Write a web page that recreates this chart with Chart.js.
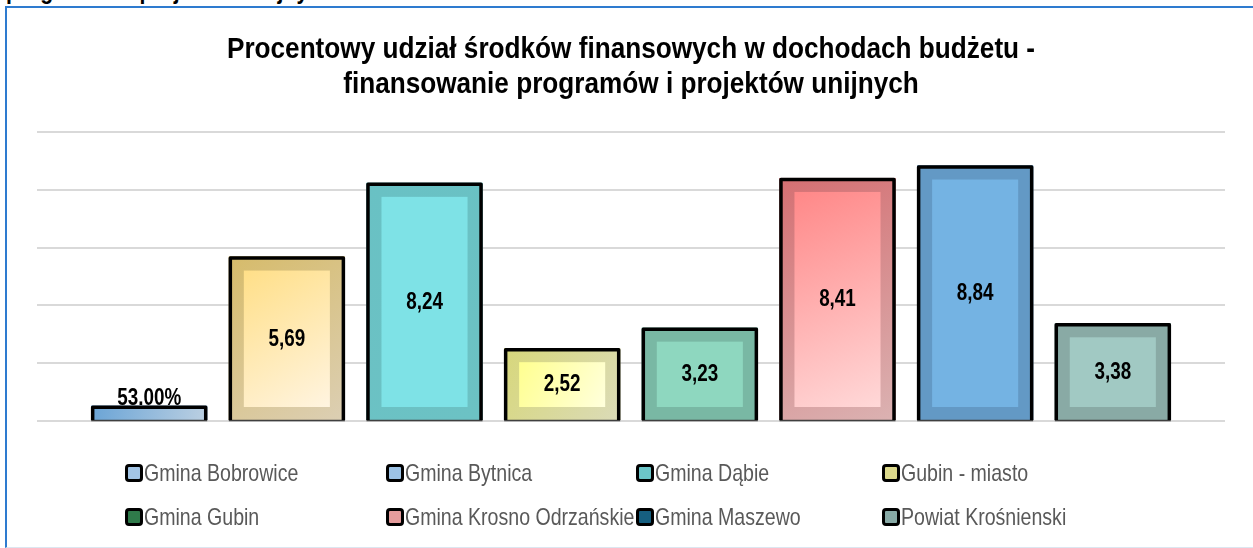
<!DOCTYPE html>
<html>
<head>
<meta charset="utf-8">
<script src="https://cdn.jsdelivr.net/npm/chart.js@4.4.1/dist/chart.umd.min.js"></script>
<style>
  html, body { margin: 0; padding: 0; background: #fff; width: 1253px; height: 548px; overflow: hidden; }
  #strip { position: absolute; left: 6px; top: -22px; font: bold 25px "Liberation Sans", Arial, sans-serif; line-height: 25px; color: #000; white-space: nowrap; transform: scaleX(0.85); transform-origin: 0 0; }
  #frame { position: absolute; left: 5px; top: 6px; width: 1400px; height: 539px; border-left: 2px solid #2e7bcf; border-top: 2px solid #2e7bcf; border-bottom: 1px solid #dce6f0; background: transparent; }
  #wrap { position: absolute; left: 0; top: 0; width: 1253px; height: 548px; }
  #title { position: absolute; left: 0; top: 30px; width: 1262px; text-align: center; font: bold 30px "Liberation Sans", Arial, sans-serif; line-height: 35px; color: #000; white-space: nowrap; transform: scaleX(0.872); transform-origin: 631px 0; }
  #legend { position: absolute; left: 125px; top: 451px; display: grid; grid-template-columns: 261px 250px 246px auto; grid-auto-rows: 44px; }
  .item { display: flex; align-items: center; font: 24px "Liberation Sans", Arial, sans-serif; color: #595959; white-space: nowrap; }
  .item .txt { display: inline-block; transform: scaleX(0.815); transform-origin: 0 50%; }
  .box { width: 12px; height: 12px; border: 3px solid #000; border-radius: 4px; margin-right: 1px; flex: none; }
</style>
</head>
<body>
<div id="strip">programów i projektów unijnych</div>
<div id="frame"></div>
<div id="wrap"><canvas id="c" width="1253" height="548"></canvas></div>
<div id="title"></div>
<div id="legend"></div>
<script>
const titleLines = ['Procentowy udział środków finansowych w dochodach budżetu -', 'finansowanie programów i projektów unijnych'];
const categories = [''];
const seriesNames = ['Gmina Bobrowice', 'Gmina Bytnica', 'Gmina Dąbie', 'Gubin - miasto', 'Gmina Gubin', 'Gmina Krosno Odrzańskie', 'Gmina Maszewo', 'Powiat Krośnienski'];
const values = [0.53, 5.69, 8.24, 2.52, 3.23, 8.41, 8.84, 3.38];
const valueLabels = ['53.00%', '5,69', '8,24', '2,52', '3,23', '8,41', '8,84', '3,38'];
const yTicks = [0, 2, 4, 6, 8, 10];

const frameStart = ['#6aa4d6', '#d6bb6a', '#69c1c4', '#d7d77a', '#79b8a4', '#d46f72', '#6399c5', '#89aaa5'];
const frameEnd   = ['#bcd0e2', '#dccfb4', '#6cc2c4', '#dbdbb8', '#79b8a4', '#dbb2b2', '#6399c5', '#89aaa5'];
const innerStart = ['#6aa4d6', '#ffdf88', '#7ee2e6', '#ffff90', '#8ed7bf', '#ff8888', '#74b3e3', '#a1c9c3'];
const innerEnd   = ['#bcd0e2', '#fff4e0', '#7ee2e6', '#ffffdc', '#8ed7bf', '#ffd8d8', '#74b3e3', '#a1c9c3'];
const legendColors = ['#a3c5e6', '#9dc3e6', '#6cc6c9', '#dcd98c', '#2f7a4a', '#e59c9c', '#165f80', '#88aaa6'];

const sansFont = '"Liberation Sans", Arial, sans-serif';

const bevelPlugin = {
  id: 'bevel',
  afterDatasetsDraw(chart) {
    const ctx = chart.ctx;
    chart.getSortedVisibleDatasetMetas().forEach(meta => {
      const i = meta.index;
      meta.data.forEach(bar => {
        const p = bar.getProps(['x', 'y', 'base', 'width'], true);
        const L = p.x - p.width / 2, R = p.x + p.width / 2, T = p.y, B = p.base;
        const h = B - T;
        ctx.save();
        let g = ctx.createLinearGradient(L, T, R, B);
        g.addColorStop(0, frameStart[i]); g.addColorStop(1, frameEnd[i]);
        ctx.fillStyle = g;
        ctx.fillRect(L, T, R - L, h);
        if (h > 40) {
          const il = L + 15, ir = R - 15, it = T + 14, ib = B - 13;
          g = ctx.createLinearGradient(il, it, ir, ib);
          g.addColorStop(0, innerStart[i]); g.addColorStop(1, innerEnd[i]);
          ctx.fillStyle = g;
          ctx.fillRect(il, it, ir - il, ib - it);
        }
        ctx.strokeStyle = '#404040';
        ctx.lineWidth = 1.5;
        ctx.beginPath(); ctx.moveTo(L, B + 0.5); ctx.lineTo(R, B + 0.5); ctx.stroke();
        ctx.strokeStyle = '#000';
        ctx.lineWidth = 3.5;
        ctx.lineJoin = 'round';
        ctx.beginPath();
        ctx.moveTo(L + 1.5, B);
        ctx.lineTo(L + 1.5, T + 1.5);
        ctx.lineTo(R - 1.5, T + 1.5);
        ctx.lineTo(R - 1.5, B);
        ctx.stroke();
        ctx.fillStyle = '#000';
        ctx.font = 'bold 23px ' + sansFont;
        ctx.textAlign = 'center';
        let ly;
        if (h > 40) { ctx.textBaseline = 'middle'; ly = (T + B) / 2 + 1; }
        else { ctx.textBaseline = 'alphabetic'; ly = T - 1; }
        ctx.translate(p.x, ly);
        ctx.scale(0.82, 1);
        ctx.fillText(valueLabels[i], 0, 0);
        ctx.restore();
      });
    });
  }
};

const datasets = seriesNames.map((name, i) => ({
  label: name,
  data: [values[i]],
  backgroundColor: frameStart[i],
  borderWidth: 0,
  categoryPercentage: 0.927,
  barPercentage: 0.843
}));

new Chart(document.getElementById('c'), {
  type: 'bar',
  data: { labels: categories, datasets },
  options: {
    responsive: false,
    animation: false,
    layout: { padding: { left: 37, right: 28, top: 132, bottom: 127 } },
    plugins: {
      legend: { display: false },
      tooltip: { enabled: false },
      title: { display: false }
    },
    scales: {
      x: { display: false },
      y: {
        min: yTicks[0], max: yTicks[yTicks.length - 1],
        afterBuildTicks: s => { s.ticks = yTicks.map(v => ({ value: v })); },
        ticks: { display: false },
        border: { display: false },
        grid: { color: '#d9d9d9', lineWidth: 2, drawTicks: false }
      }
    }
  },
  plugins: [bevelPlugin]
});

const title = document.getElementById('title');
titleLines.forEach(line => {
  const d = document.createElement('div');
  d.textContent = line;
  title.appendChild(d);
});

const legend = document.getElementById('legend');
seriesNames.forEach((name, i) => {
  const it = document.createElement('div');
  it.className = 'item';
  const b = document.createElement('span');
  b.className = 'box';
  b.style.background = legendColors[i];
  const t = document.createElement('span');
  t.className = 'txt';
  t.textContent = name;
  it.appendChild(b); it.appendChild(t);
  legend.appendChild(it);
});
</script>
</body>
</html>
